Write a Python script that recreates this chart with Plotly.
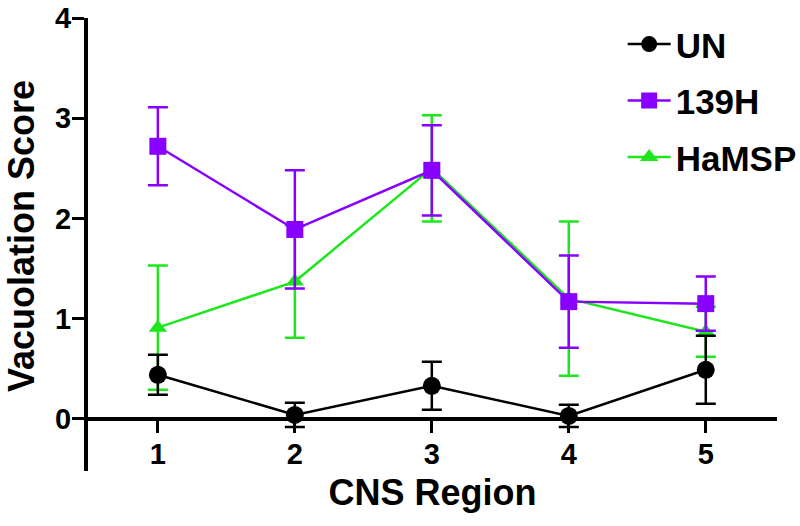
import plotly.graph_objects as go

regions = [1, 2, 3, 4, 5]
tick_labels = ["1", "2", "3", "4", "5"]

un_mean = [0.44, 0.04, 0.33, 0.03, 0.49]
un_err = [0.20, 0.12, 0.24, 0.11, 0.34]

h139_mean = [2.72, 1.89, 2.48, 1.17, 1.15]
h139_err = [0.39, 0.59, 0.45, 0.46, 0.27]

hamsp_mean = [0.91, 1.37, 2.50, 1.20, 0.87]
hamsp_err = [0.62, 0.56, 0.53, 0.77, 0.25]

BLACK = "#000000"
PURPLE = "#8800ff"
GREEN = "#1de61d"

FONT = "Liberation Sans, Arial, sans-serif"

y_range = [-0.52, 4.0]
x_range = [0.49, 5.52]


def trace(name, y, err, color, symbol, size, rank):
    return go.Scatter(
        x=regions, y=y, name=name, mode="lines+markers",
        line=dict(color=color, width=2.5),
        marker=dict(color=color, symbol=symbol, size=size),
        error_y=dict(type="data", array=err, visible=True, color=color,
                     thickness=2.5, width=10),
        legendrank=rank, legendgroup=name,
    )


fig = go.Figure()
fig.add_trace(trace("HaMSP", hamsp_mean, hamsp_err, GREEN, "triangle-up", 16, 3))
fig.add_trace(trace("139H", h139_mean, h139_err, PURPLE, "square", 17, 2))
fig.add_trace(trace("UN", un_mean, un_err, BLACK, "circle", 18, 1))

fig.update_layout(
    width=800, height=526,
    margin=dict(l=88, r=23, t=18, b=55, autoexpand=False),
    paper_bgcolor="white", plot_bgcolor="white",
    font=dict(family=FONT, color="black"),
    showlegend=True,
    legend=dict(
        x=0.776, y=1.007, xanchor="left", yanchor="top",
        font=dict(family=FONT, size=35, color="black", weight="bold"),
        tracegroupgap=8, bgcolor="rgba(0,0,0,0)", traceorder="grouped",
        itemwidth=43,
    ),
    xaxis=dict(
        range=x_range, tickmode="array", tickvals=regions, ticktext=tick_labels,
        showline=True, linecolor="black", linewidth=4,
        ticks="outside", ticklen=12, tickwidth=3, tickcolor="black",
        tickfont=dict(family=FONT, size=29, color="black", weight="bold"),
        ticklabelstandoff=-4,
        showgrid=False, zeroline=False, automargin=False,
        anchor="free", position=(0 - y_range[0]) / (y_range[1] - y_range[0]),
        title=dict(text="CNS Region", font=dict(family=FONT, size=36, color="black", weight="bold"), standoff=10),
    ),
    yaxis=dict(
        range=y_range, tick0=0, dtick=1,
        showline=True, linecolor="black", linewidth=4,
        ticks="outside", ticklen=12, tickwidth=3, tickcolor="black",
        tickfont=dict(family=FONT, size=29, color="black", weight="bold"),
        ticklabelstandoff=-5,
        showgrid=False, zeroline=False, automargin=False,
    ),
    annotations=[dict(
        text="Vacuolation Score", textangle=-90, showarrow=False,
        xref="paper", yref="paper", x=(21 - 88) / 689, y=(471 - 236) / 453,
        xanchor="center", yanchor="middle",
        font=dict(family=FONT, size=36, color="black", weight="bold"),
    )],
)

fig.write_html("out.html", config={"displayModeBar": False},
               post_script="document.body.style.margin='0';")
